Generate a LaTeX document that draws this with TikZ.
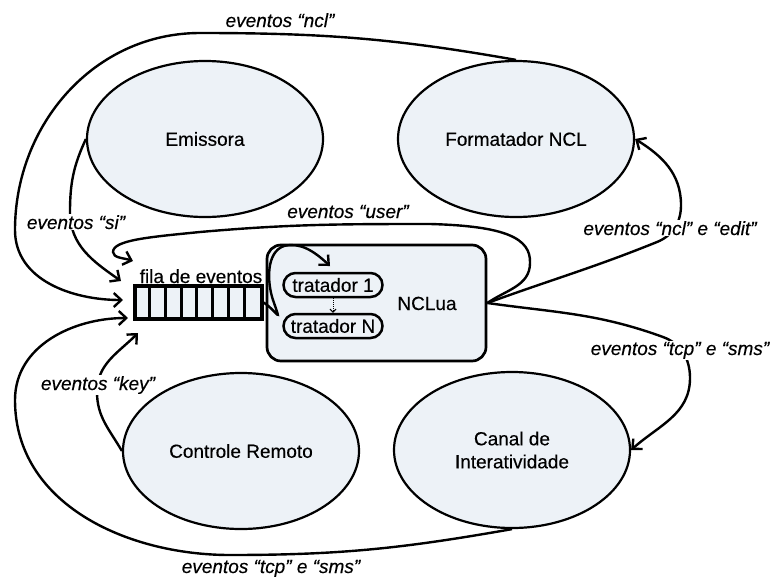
\documentclass[tikz,border=0pt]{standalone}
\usepackage{fontspec}
\setmainfont{Liberation Sans}[FakeBold=0.35]
\usetikzlibrary{shapes.geometric,arrows.meta}
\definecolor{paneblue}{RGB}{237,242,247}
\begin{document}
\begin{tikzpicture}[x=1pt,y=1pt,
  font=\fontsize{19}{23}\selectfont,
  agent/.style={ellipse,draw,line width=2.2pt,fill=paneblue,minimum width=236pt,
    minimum height=156pt,inner sep=0pt,align=center},
  handler/.style={draw,line width=2.5pt,fill=paneblue,rounded corners=12pt,
    minimum width=99pt,minimum height=24pt,inner sep=0pt},
  flow/.style={line width=2.4pt,-{Straight Barb[length=7.5pt,width=14pt]}},
  evlabel/.style={font=\fontsize{19}{23}\selectfont\itshape,anchor=base,
    fill=white,inner sep=1pt},
]
\useasboundingbox (0,0) rectangle (773,-581);

% external agents
\node[agent] (emi) at (205,-139) {Emissora};
\node[agent] (fmt) at (516,-139) {Formatador NCL};
\node[agent] (rem) at (241,-451) {Controle Remoto};
\node[agent] (can) at (512,-450) {Canal de\\Interatividade};

% NCLua container with its handlers
\node[draw,line width=2.7pt,fill=paneblue,rounded corners=14pt,
  minimum width=219pt,minimum height=116pt,inner sep=0pt] (nclua) at (376.5,-303) {};
\node[anchor=base] (nclText) at (427,-310) {NCLua};
\node[handler] (t1) at (333,-285) {tratador 1};
\node[handler] (tN) at (333,-326) {tratador N};
\draw[line width=1pt,densely dotted,-{Straight Barb[length=3pt,width=6pt]}]
  (t1.south) -- (tN.north);

% event queue
\node[draw,line width=3.2pt,fill=paneblue,minimum width=127pt,minimum height=33pt,
  inner sep=0pt] (queue) at (198.5,-302.5) {};
\foreach \k in {1,...,7}
  \draw[line width=3pt] ([xshift=\k*15.875pt]queue.north west)
    -- ([xshift=\k*15.875pt]queue.south west);
\node[anchor=base] (lQueue) at (201,-283) {fila de eventos};

% arrival points at the queue
\coordinate (qUser) at (133,-261);
\coordinate (qSi)   at (121,-281);
\coordinate (qNcl)  at (123,-300);
\coordinate (qTcp)  at (128,-318);
\coordinate (qKey)  at (138,-333);
\coordinate (qT1)   at (330,-266);

% connectors
\draw[flow] (fmt.north) to[out=170,in=0] (200,-33) to[out=180,in=90] (15,-230)
  to[out=-90,in=180] (qNcl);
\draw[flow] (emi.west) to[out=-115,in=90] (70,-212) to[out=-90,in=145] (qSi);
\draw[flow] (rem.west) to[out=120,in=-90] (97,-392) to[out=90,in=-135] (qKey);
\draw[flow] (can.south) to[out=190,in=0] (230,-555) to[out=180,in=-90] (15,-400)
  to[out=90,in=180] (qTcp);
\draw[flow] (nclua.east) to[out=35,in=-90] (530,-263)
  .. controls (531,-238) and (505,-226) .. (430,-224)
  to[out=180,in=5] (200,-232)
  .. controls (150,-237) and (113,-240) .. (113,-252)
  .. controls (113,-258) and (124,-258) .. (qUser);
\draw[flow] (queue.east) .. controls (278,-312) and (282,-326) .. (273,-300)
  .. controls (267,-282) and (266,-252) .. (284,-246)
  .. controls (300,-242) and (314,-251) .. (qT1);
\draw[flow] (nclua.east) to[out=20,in=-158] (657,-242) to[out=22,in=-90] (681,-205)
  to[out=90,in=-32] (fmt.east);
\draw[flow] (nclua.east) to[out=-8,in=160] (663,-337) to[out=-20,in=90] (690,-378)
  to[out=-90,in=42] (can.east);

% event labels
\node[evlabel] (lNcl)  at (280,-27)  {eventos “ncl”};
\node[evlabel] (lSi)   at (76,-229)  {eventos “si”};
\node[evlabel] (lUser) at (348,-218) {eventos “user”};
\node[evlabel] (lEdit) at (670,-235) {eventos “ncl” e “edit”};
\node[evlabel] (lTcpR) at (680,-355) {eventos “tcp” e “sms”};
\node[evlabel] (lKey)  at (98,-390)  {eventos “key”};
\node[evlabel] (lTcpB) at (271,-573) {eventos “tcp” e “sms”};
\end{tikzpicture}
\end{document}
